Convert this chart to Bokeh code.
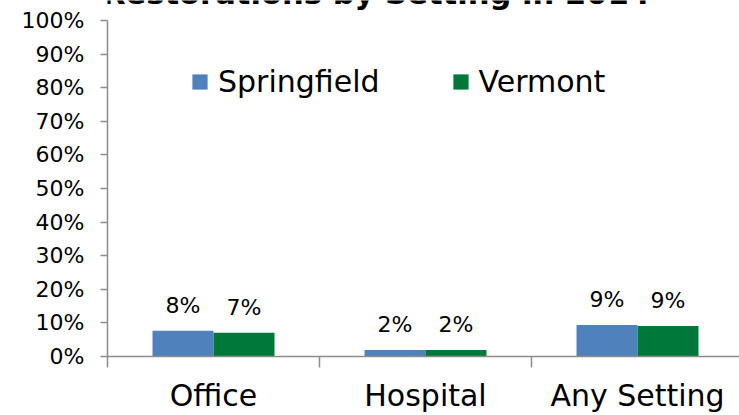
from bokeh.plotting import figure
from bokeh.models import (ColumnDataSource, FixedTicker, Label, LabelSet, Legend,
                          LegendItem, Range1d)
from bokeh.core.properties import value
from bokeh.transform import dodge
from bokeh.embed import file_html
from bokeh.resources import INLINE

# ---------------- data ----------------
categories = ["Office", "Hospital", "Any Setting"]
springfield = [7.7, 1.9, 9.4]
vermont = [7.1, 1.9, 9.1]
series_names = ["Springfield", "Vermont"]
y_ticks = [0, 10, 20, 30, 40, 50, 60, 70, 80, 90, 100]
y_tick_labels = ["0%", "10%", "20%", "30%", "40%", "50%", "60%", "70%", "80%", "90%", "100%"]
title_text = "Restorations by Setting in 2014"

# ---------------- style ----------------
FONT = "DejaVu Sans"
BLUE = "#4f81bd"
GREEN = "#00783a"
AXIS = "#8c8c8c"
W, H = 739, 415
LEFT, BOTTOM = 107, 59
FRAME_H = H - BOTTOM           # frame spans the full height above the x axis
PX_PER_PCT = 3.36              # 100% sits 20 px below the top edge
CAT_PX = 212.0
BAR_W = 61.0 / CAT_PX

x_pos = [i + 0.5 for i in range(len(categories))]
src = ColumnDataSource(dict(
    x=x_pos,
    springfield=springfield,
    vermont=vermont,
    s_lbl=["%d%%" % round(v) for v in springfield],
    v_lbl=["%d%%" % round(v) for v in vermont],
))

p = figure(width=W, height=H, output_backend="svg", toolbar_location=None, title=None,
           x_range=Range1d(0, (W - LEFT) / CAT_PX),
           y_range=Range1d(0, FRAME_H / PX_PER_PCT),
           min_border_left=LEFT, min_border_right=0, min_border_top=0,
           min_border_bottom=BOTTOM)
p.outline_line_color = None
p.xgrid.visible = False
p.ygrid.visible = False
p.background_fill_color = "white"
p.border_fill_color = "white"

r1 = p.vbar(x=dodge("x", -BAR_W / 2), top="springfield", width=BAR_W, source=src,
            fill_color=BLUE, line_color=None)
r2 = p.vbar(x=dodge("x", BAR_W / 2), top="vermont", width=BAR_W, source=src,
            fill_color=GREEN, line_color=None)

for col, lbl, off in (("springfield", "s_lbl", -BAR_W / 2), ("vermont", "v_lbl", BAR_W / 2)):
    p.add_layout(LabelSet(x=dodge("x", off), y=col, text=lbl, source=src, y_offset=18,
                          text_align="center", text_baseline="alphabetic",
                          text_font_size=value("22px"), text_font=value(FONT),
                          text_color="black"))

# y axis
yax = p.yaxis[0]
yax.ticker = FixedTicker(ticks=y_ticks, minor_ticks=[])
yax.bounds = (y_ticks[0], y_ticks[-1])
yax.major_label_overrides = {t: l for t, l in zip(y_ticks, y_tick_labels)}
yax.axis_line_color = AXIS
yax.axis_line_width = 1.5
yax.major_tick_line_color = AXIS
yax.major_tick_line_width = 1.5
yax.major_tick_out = 7
yax.major_tick_in = 0
yax.major_label_standoff = 16
yax.major_label_text_font = FONT
yax.major_label_text_font_size = "22px"
yax.major_label_text_color = "black"

# x axis
xax = p.xaxis[0]
xax.ticker = FixedTicker(ticks=x_pos, minor_ticks=list(range(len(categories))))
xax.major_label_overrides = {x: c for x, c in zip(x_pos, categories)}
xax.axis_line_color = AXIS
xax.axis_line_width = 1.5
xax.major_tick_out = 0
xax.major_tick_in = 0
xax.minor_tick_out = 11
xax.minor_tick_in = 0
xax.minor_tick_line_color = AXIS
xax.minor_tick_line_width = 1.5
xax.major_label_standoff = 10
xax.major_label_text_font = FONT
xax.major_label_text_font_size = "30px"
xax.major_label_text_color = "black"

# legend
legend = Legend(items=[LegendItem(label=series_names[0], renderers=[r1]),
                       LegendItem(label=series_names[1], renderers=[r2])],
                orientation="horizontal", location=(83, 257),
                glyph_width=19, glyph_height=19, label_standoff=9, spacing=71,
                padding=0, margin=0, border_line_color=None, background_fill_alpha=0,
                label_text_font=FONT, label_text_font_size="30px", label_text_color="black")
p.add_layout(legend)

# title: only its lower part shows at the top edge of the page, as in the reference
p.add_layout(Label(x=(375.5 - LEFT) / CAT_PX, y=(FRAME_H + 7.5) / PX_PER_PCT,
                   text=title_text, text_align="center", text_baseline="middle",
                   text_font=FONT, text_font_style="bold", text_font_size="30.6px",
                   text_color="black"))

open("out.html", "w").write(file_html(p, INLINE))
